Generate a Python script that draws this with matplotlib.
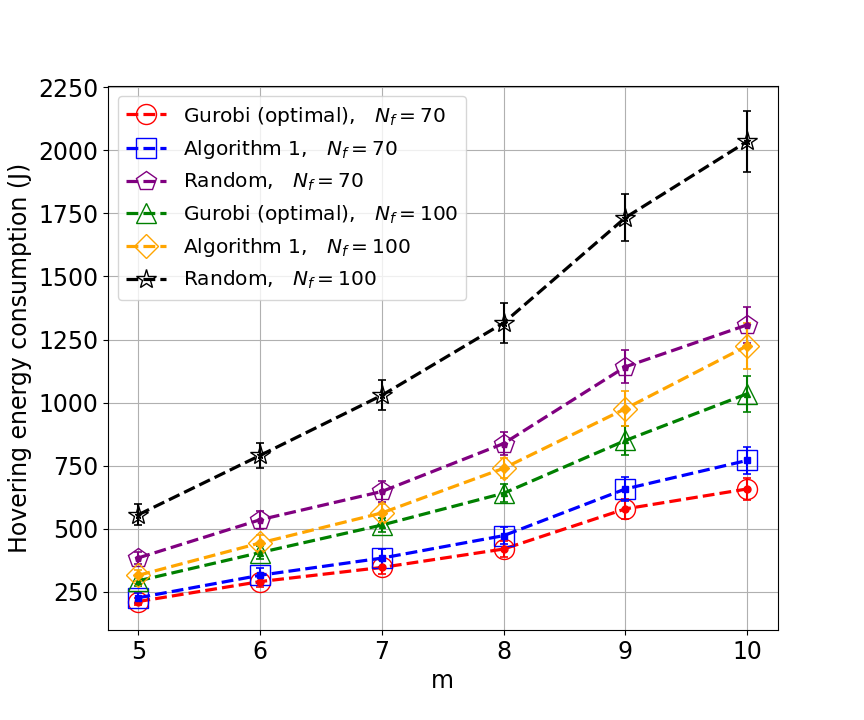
import numpy as np
import matplotlib
matplotlib.use("Agg")
import matplotlib.pyplot as plt

# number of UAVs
m = np.array([5, 6, 7, 8, 9, 10])

# hovering energy (J), mean and error
gurobi_70 = np.array([212, 291, 347, 420, 579, 658])
gurobi_70_err = np.array([15, 22, 28, 30, 40, 45])
alg1_70 = np.array([227, 316, 384, 473, 658, 771])
alg1_70_err = np.array([20, 29, 37, 35, 46, 54])
random_70 = np.array([385, 536, 648, 838, 1142, 1308])
random_70_err = np.array([25, 35, 40, 45, 66, 70])
gurobi_100 = np.array([294, 406, 515, 641, 850, 1035])
gurobi_100_err = np.array([20, 25, 28, 35, 56, 71])
alg1_100 = np.array([316, 444, 563, 740, 976, 1225])
alg1_100_err = np.array([22, 30, 35, 40, 70, 92])
random_100 = np.array([556, 791, 1029, 1316, 1733, 2035])
random_100_err = np.array([42, 50, 60, 80, 92, 120])

series = [
    (gurobi_70, gurobi_70_err, 'red', 'o', r'Gurobi (optimal),   $N_f=70$'),
    (alg1_70, alg1_70_err, 'blue', 's', r'Algorithm 1,   $N_f=70$'),
    (random_70, random_70_err, 'purple', 'p', r'Random,   $N_f=70$'),
    (gurobi_100, gurobi_100_err, 'green', '^', r'Gurobi (optimal),   $N_f=100$'),
    (alg1_100, alg1_100_err, 'orange', 'D', r'Algorithm 1,   $N_f=100$'),
    (random_100, random_100_err, 'black', '*', r'Random,   $N_f=100$'),
]

fig = plt.figure(figsize=(8.64, 7.2), dpi=100)
ax = fig.add_axes([0.125, 0.125, 0.775, 0.755])

for y, err, c, mk, lab in series:
    ax.errorbar(m, y, yerr=err, fmt=mk, color=c, markersize=5,
                capsize=3, elinewidth=1.5, capthick=1.2)
    ms = 14.4 if mk != 'D' else 12
    if mk == '*':
        ms = 15
    ax.plot(m, y, '--', color=c, linewidth=2.3, marker=mk, markersize=ms,
            markerfacecolor='none', markeredgecolor=c, markeredgewidth=1.0,
            label=lab)

ax.set_xlabel('m', fontsize=17)
ax.set_ylabel('Hovering energy consumption (J)', fontsize=17)
ax.set_xticks(m)
ax.set_yticks([250, 500, 750, 1000, 1250, 1500, 1750, 2000, 2250])
ax.tick_params(labelsize=17)
ax.grid(True)
ax.legend(loc='upper left', fontsize=14.5)

plt.savefig('out.png', dpi=100)
